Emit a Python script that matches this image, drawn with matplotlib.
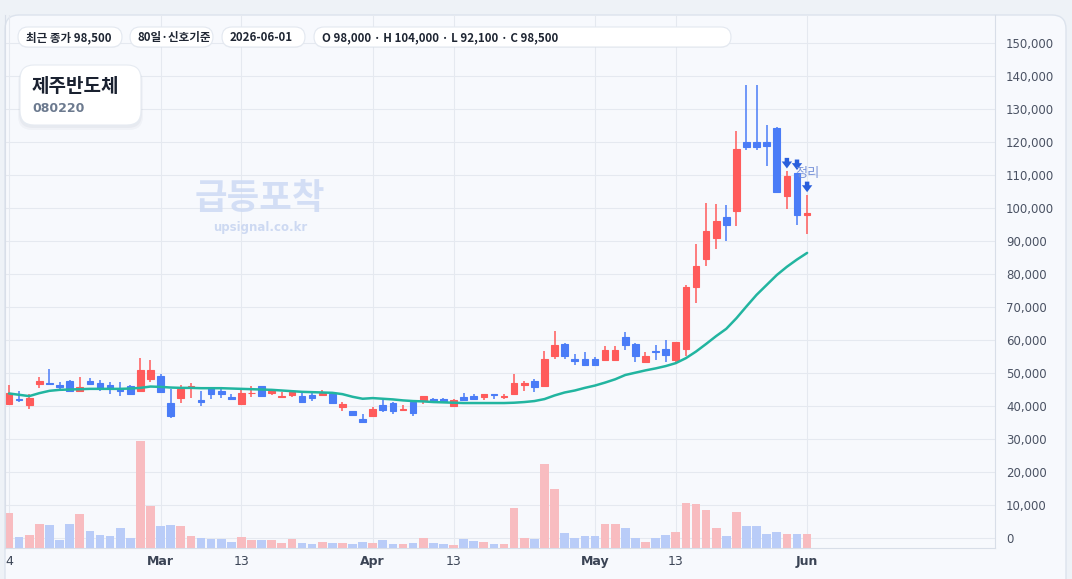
import numpy as np
import pandas as pd
import matplotlib
matplotlib.use("Agg")
import matplotlib.pyplot as plt
from matplotlib.patches import FancyBboxPatch
from matplotlib.ticker import FuncFormatter

# 종목 / 배지
name = "제주반도체"
code = "080220"
badges = ["최근 종가 98,500", "80일·신호기준", "2026-06-01",
          "O 98,000 · H 104,000 · L 92,100 · C 98,500"]

# 거래일 (주말, 설 연휴, 대체공휴일 제외)
holidays = ["2026-02-16", "2026-02-17", "2026-02-18", "2026-03-02"]
dates = pd.bdate_range("2026-02-04", "2026-06-01")
dates = dates[~dates.isin(pd.to_datetime(holidays))]

tick_dates = ["2026-02-04", "2026-03-01", "2026-03-13", "2026-04-01",
              "2026-04-13", "2026-05-01", "2026-05-13", "2026-06-01"]
tick_labels = ["4", "Mar", "13", "Apr", "13", "May", "13", "Jun"]

opens = [40500, 42200, 40200, 46600, 47100, 46500, 47500, 44400, 47500, 47100,
         46500, 45300, 46000, 44400, 48100, 49200, 41000, 42300, 45700, 41900,
         45500, 44700, 42800, 40500, 43800, 46200, 43800, 42600, 43200, 43100,
         43200, 43200, 43500, 39600, 38400, 36200, 37100, 40400, 41000, 38700,
         41100, 41500, 42200, 42200, 39900, 42800, 43000, 42600, 43600, 42800,
         43500, 46300, 47700, 46000, 55200, 58700, 54100, 54300, 54300, 53800,
         53800, 60800, 58700, 53300, 56800, 57200, 53800, 57300, 76000, 84500,
         90900, 97400, 99000, 120000, 120000, 120000, 124200, 103500, 110700, 98000]
highs = [46500, 44400, 43700, 48900, 51300, 47400, 48000, 48900, 48600, 47900,
         47300, 47400, 46300, 54600, 54000, 49800, 45300, 46500, 46900, 44600,
         45500, 45700, 43700, 45400, 46000, 46200, 45000, 44200, 45000, 44400,
         44200, 44900, 44000, 41200, 38400, 37700, 39700, 41700, 41200, 40400,
         41300, 43000, 42500, 42500, 42000, 44000, 43700, 43600, 43600, 43700,
         49800, 47500, 48100, 56700, 62800, 59000, 55800, 56400, 55000, 58100,
         58100, 62300, 59000, 56300, 58400, 59900, 59500, 76800, 89200, 101600,
         101300, 101000, 123400, 137300, 137300, 125100, 124700, 111200, 110700, 104000]
lows = [40500, 41200, 39000, 45500, 46300, 45200, 44200, 44200, 46300, 44700,
        43500, 42900, 43500, 44200, 47400, 44100, 36300, 40900, 42300, 39900,
        42000, 42300, 41800, 40300, 42600, 42900, 43300, 42600, 42600, 41100,
        41400, 43200, 40800, 38400, 36900, 35100, 37100, 38200, 37500, 38400,
        37100, 40500, 40900, 41100, 39600, 41700, 41700, 41700, 42100, 42200,
        43500, 44700, 44200, 46000, 54100, 54100, 52500, 52500, 52500, 53800,
        53800, 56900, 53300, 53000, 53800, 53300, 53300, 55300, 71200, 82400,
        87700, 90000, 94500, 117700, 117700, 112600, 104800, 99600, 94800, 92100]
closes = [44000, 41900, 42500, 47700, 46600, 45700, 44700, 45900, 46600, 45600,
          45500, 44700, 43500, 51000, 51000, 44100, 36900, 45100, 46200, 41100,
          43500, 43500, 42000, 44000, 44000, 42900, 44600, 43100, 44200, 41100,
          42300, 43900, 40800, 40500, 37200, 35100, 39200, 38700, 38400, 39200,
          38000, 43000, 41400, 41400, 41700, 41700, 42200, 43600, 43200, 43000,
          47100, 47100, 45800, 54200, 58600, 55200, 53700, 52500, 52500, 57100,
          57100, 58500, 55200, 55100, 56400, 55500, 59300, 76000, 82500, 92900,
          96200, 94800, 117900, 118600, 118600, 118900, 105000, 109700, 97800, 98500]
# 거래량 (천주)
volume = [350, 110, 130, 240, 230, 80, 240, 340, 170, 130,
          120, 200, 100, 1060, 420, 220, 230, 220, 120, 100,
          90, 90, 60, 110, 80, 80, 80, 50, 90, 50,
          40, 60, 50, 50, 40, 60, 50, 80, 40, 40,
          50, 100, 50, 40, 30, 90, 70, 60, 40, 40,
          400, 100, 90, 840, 590, 150, 100, 120, 120, 240,
          240, 200, 100, 60, 100, 130, 160, 450, 440, 380,
          200, 120, 360, 220, 220, 140, 160, 140, 140, 140]
# 20일 이동평균
ma20 = [43800, 43400, 43000, 43900, 44600, 44900, 45000, 45100, 45200, 45200,
        45200, 45200, 45300, 45500, 45900, 45800, 45600, 45500, 45500, 45400,
        45400, 45400, 45300, 45200, 45100, 45000, 44900, 44700, 44500, 44300,
        44200, 44100, 44000, 43600, 42800, 42200, 42400, 42200, 42000, 41700,
        41500, 41400, 41200, 41100, 41000, 40900, 40900, 40900, 40900, 40900,
        41000, 41200, 41500, 42100, 43200, 44100, 44700, 45500, 46200, 47100,
        48100, 49400, 50100, 50800, 51400, 52100, 53000, 54500, 56500, 58800,
        61200, 63400, 66600, 70200, 73700, 76700, 79700, 82200, 84400, 86400]
signal_idx = [77, 78, 79]
signal_text = "정리"

UP, DOWN = "#ff5b5b", "#4a7cf7"
UP_V, DOWN_V = "#f8bcc0", "#b9ccf8"
KR = ["Noto Sans CJK KR", "DejaVu Sans"]
plt.rcParams["font.family"] = ["DejaVu Sans"]

W, H = 1072, 579
fig = plt.figure(figsize=(W / 100, H / 100), dpi=100, facecolor="#eef2f7")

# 배경 패널
bg = fig.add_axes([0, 0, 1, 1], zorder=0)
bg.set_xlim(0, W)
bg.set_ylim(H, 0)
bg.axis("off")
bg.add_patch(FancyBboxPatch((5, 15), 1061, 620, boxstyle="round,pad=0,rounding_size=14",
                            fc="#f7f9fd", ec="#dce3ed", lw=1))

# 메인 차트
ax = fig.add_axes([5 / W, (H - 548) / H, 990 / W, 533 / H], zorder=1)
ax.set_facecolor("none")
x = np.arange(len(closes))
o, h, l, c = map(np.array, (opens, highs, lows, closes))
up = c >= o
vol = np.array(volume)

ax.set_xlim(-0.4, 97.6)
ax.set_ylim(-3030, 158500)

# 거래량 (하단 기준, 축 높이의 1/5 = 최대치)
ax.bar(x, vol / (vol.max() * 5), width=0.86, bottom=0,
       color=np.where(up, UP_V, DOWN_V), transform=ax.get_xaxis_transform(), zorder=1)

# 캔들
colors = np.where(up, UP, DOWN)
ax.vlines(x, l, h, colors=colors, lw=1.1, zorder=3)
ax.bar(x, np.abs(c - o), bottom=np.minimum(o, c), width=0.66, color=colors,
       edgecolor=colors, lw=0.8, zorder=3)

# 이동평균선
ax.plot(x, ma20, color="#22b5a0", lw=1.8, zorder=4, solid_capstyle="round")

# 신호 화살표
for i in signal_idx:
    tip = h[i] + 800
    ax.annotate("", xy=(i, tip), xytext=(i, tip + 3200),
                arrowprops=dict(arrowstyle="simple,head_width=0.75,head_length=0.5,tail_width=0.32",
                                color="#2a5fdc", shrinkA=0, shrinkB=0, lw=0),
                zorder=5)
ax.text(signal_idx[-1], 110600, signal_text, ha="center", va="center", fontsize=9.5,
        color="#6f8bd6", alpha=0.9, family=KR, zorder=6)

# 축
ax.set_yticks(range(0, 150001, 10000))
ax.yaxis.set_major_formatter(FuncFormatter(lambda v, p: f"{v:,.0f}"))
ax.yaxis.tick_right()
ax.tick_params(axis="y", length=0, pad=8, labelsize=8.5, labelcolor="#4a5263")
tick_pos = [dates.searchsorted(pd.Timestamp(d)) for d in tick_dates]
ax.set_xticks(tick_pos)
ax.set_xticklabels(tick_labels)
for lab in ax.get_xticklabels():
    if lab.get_text().isalpha():
        lab.set_fontweight("bold")
ax.tick_params(axis="x", length=0, pad=5, labelsize=9, labelcolor="#3b4455")
ax.grid(True, color="#e5e9f0", lw=0.8, zorder=0)
ax.set_axisbelow(True)
for s in ["left", "right", "bottom"]:
    ax.spines[s].set_color("#d8dee8")
    ax.spines[s].set_linewidth(0.8)
ax.spines["top"].set_visible(False)

# 오버레이 (배지, 종목 카드, 워터마크)
ov = fig.add_axes([0, 0, 1, 1], zorder=2)
ov.set_xlim(0, W)
ov.set_ylim(H, 0)
ov.axis("off")
ov.patch.set_visible(False)

ov.text(260, 198, "급등포착", ha="center", va="center", fontsize=25.5, fontweight="bold",
        color="#cddaf4", alpha=0.85, family=KR)
ov.text(260, 228, "upsignal.co.kr", ha="center", va="center", fontsize=8.5,
        fontweight="bold", color="#c9d6f1", alpha=0.9)

pill_box = [(18, 104), (130, 83), (222, 83), (314, 417)]
for (px, pw), t in zip(pill_box, badges):
    ov.add_patch(FancyBboxPatch((px, 28), pw, 20, boxstyle="round,pad=0,rounding_size=10",
                                fc="#000000", ec="none", alpha=0.035))
    ov.add_patch(FancyBboxPatch((px, 27), pw, 20, boxstyle="round,pad=0,rounding_size=10",
                                fc="white", ec="#e3e8f0", lw=0.8))
    ov.text(px + 8, 37.5, t, ha="left", va="center", fontsize=8.3, fontweight="bold",
            color="#1f2633", family=KR)

for k, a in [(4, 0.03), (2, 0.04)]:
    ov.add_patch(FancyBboxPatch((20 - k / 2, 66 + k / 2), 121 + k, 60 + k / 2,
                                boxstyle="round,pad=0,rounding_size=14",
                                fc="#1a2a50", ec="none", alpha=a))
ov.add_patch(FancyBboxPatch((20, 65), 121, 60, boxstyle="round,pad=0,rounding_size=14",
                            fc="white", ec="#e6ebf2", lw=0.8))
ov.text(32, 86, name, ha="left", va="center", fontsize=13.7, fontweight="bold",
        color="#1a2130", family=KR)
ov.text(32, 108, code, ha="left", va="center", fontsize=9, fontweight="bold",
        color="#6c7a8f")

fig.savefig("out.png", dpi=100, facecolor=fig.get_facecolor())
